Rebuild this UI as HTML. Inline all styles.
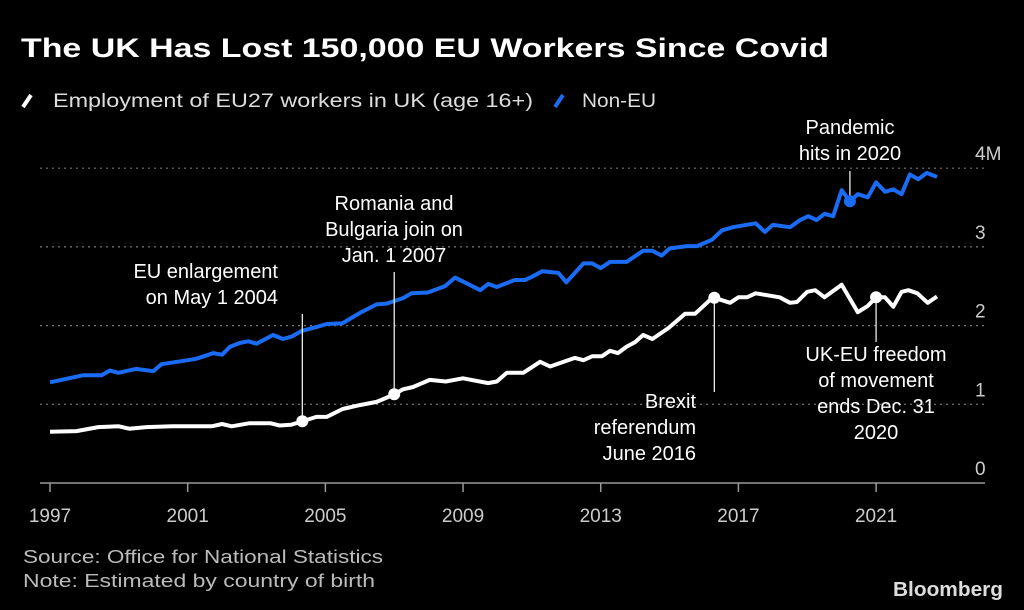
<!DOCTYPE html>
<html><head><meta charset="utf-8"><style>
html,body{margin:0;padding:0;background:#000;}
svg{display:block;font-family:"Liberation Sans",sans-serif;}
</style></head><body>
<svg id="chart" width="1024" height="610" viewBox="0 0 1024 610">
<rect width="1024" height="610" fill="#000"/>
<text x="21" y="57" fill="#fff" font-size="27" font-weight="bold" textLength="808" lengthAdjust="spacingAndGlyphs">The UK Has Lost 150,000 EU Workers Since Covid</text>
<g>
<line x1="23" y1="107" x2="31" y2="95" stroke="#fff" stroke-width="4"/>
<text x="53" y="107" fill="#ddd" font-size="19" textLength="480" lengthAdjust="spacingAndGlyphs">Employment of EU27 workers in UK (age 16+)</text>
<line x1="555" y1="107" x2="563" y2="95" stroke="#1a6cf5" stroke-width="4"/>
<text x="582" y="107" fill="#ddd" font-size="19" textLength="74" lengthAdjust="spacingAndGlyphs">Non-EU</text>
</g>
<g id="grid"></g>
<g id="axes"></g>
<g id="series"></g>
<g id="annot"></g>
<text x="23" y="563" fill="#bbb" font-size="18" textLength="360" lengthAdjust="spacingAndGlyphs">Source: Office for National Statistics</text>
<text x="23" y="587" fill="#bbb" font-size="18" textLength="352" lengthAdjust="spacingAndGlyphs">Note: Estimated by country of birth</text>
<text x="893" y="596" fill="#ddd" font-size="20" font-weight="bold" textLength="110" lengthAdjust="spacingAndGlyphs">Bloomberg</text>
</svg>
<script>
const yTickValues=[0,1,2,3,4];
const yTickLabels=["0","1","2","3","4M"];
const xTickYears=[1997,2001,2005,2009,2013,2017,2021];
const xTickLabels=["1997","2001","2005","2009","2013","2017","2021"];
const euYears=[1997,1997.77,1998.4,1999,1999.3,1999.8,2000.55,2001.7,2002,2002.28,2002.8,2003.4,2003.67,2004,2004.3,2004.74,2005.04,2005.5,2006,2006.49,2006.97,2007.26,2007.55,2008.03,2008.5,2009,2009.73,2009.98,2010.27,2010.75,2011.24,2011.53,2012.25,2012.5,2012.75,2013.03,2013.27,2013.5,2013.75,2014,2014.23,2014.5,2014.97,2015.45,2015.74,2016.26,2016.76,2017,2017.25,2017.5,2018.2,2018.5,2018.7,2019,2019.23,2019.5,2020,2020.47,2020.76,2021,2021.26,2021.5,2021.74,2021.94,2022.2,2022.5,2022.77];
const euValues=[0.65,0.66,0.71,0.72,0.69,0.71,0.72,0.72,0.75,0.72,0.76,0.76,0.73,0.74,0.78,0.84,0.84,0.94,0.99,1.03,1.12,1.19,1.22,1.31,1.29,1.33,1.27,1.29,1.40,1.40,1.54,1.48,1.59,1.56,1.61,1.61,1.68,1.65,1.73,1.79,1.88,1.83,1.97,2.15,2.15,2.36,2.29,2.36,2.36,2.41,2.36,2.29,2.30,2.43,2.45,2.36,2.52,2.17,2.25,2.36,2.36,2.24,2.43,2.45,2.41,2.29,2.37];
const nonEuYears=[1997,1997.97,1998.5,1998.74,1998.98,1999.5,2000,2000.24,2001,2001.26,2001.74,2002,2002.23,2002.52,2002.76,2003,2003.48,2003.77,2004.02,2004.3,2004.8,2005.04,2005.5,2006,2006.49,2006.78,2007.26,2007.5,2007.98,2008.47,2008.77,2009.5,2009.73,2009.98,2010.5,2010.8,2011,2011.3,2011.77,2012,2012.5,2012.75,2013,2013.27,2013.75,2014.23,2014.5,2014.77,2015,2015.5,2015.8,2016.23,2016.52,2016.84,2017.5,2017.77,2018,2018.5,2018.79,2019.03,2019.27,2019.5,2019.75,2020,2020.24,2020.47,2020.76,2021,2021.26,2021.5,2021.74,2021.98,2022.23,2022.47,2022.77];
const nonEuValues=[1.28,1.37,1.37,1.43,1.40,1.45,1.42,1.51,1.56,1.58,1.65,1.63,1.73,1.78,1.80,1.77,1.88,1.83,1.86,1.93,1.99,2.02,2.03,2.16,2.27,2.28,2.35,2.41,2.42,2.50,2.61,2.45,2.53,2.49,2.58,2.58,2.62,2.69,2.67,2.55,2.79,2.79,2.73,2.81,2.81,2.95,2.95,2.89,2.98,3.01,3.01,3.09,3.21,3.25,3.30,3.19,3.28,3.25,3.34,3.39,3.34,3.42,3.39,3.72,3.58,3.67,3.63,3.82,3.70,3.73,3.67,3.92,3.86,3.94,3.89];
const eventYears=[2004.33,2007.0,2016.3,2021.0];
const pandemicYear=2020.24;

const NS="http://www.w3.org/2000/svg";
const X=y=>50+(y-1997)*34.42;
const Y=v=>483-v*78.7;
function mk(tag,attrs,parent,txt){const e=document.createElementNS(NS,tag);for(const k in attrs)e.setAttribute(k,attrs[k]);if(txt!==undefined)e.textContent=txt;parent.appendChild(e);return e;}
const grid=document.getElementById('grid'),axes=document.getElementById('axes'),series=document.getElementById('series'),annot=document.getElementById('annot');
yTickValues.forEach((v,i)=>{
  if(v>0){const g=mk('line',{x1:40,x2:985,y1:Y(v),y2:Y(v),stroke:'#777','stroke-width':1.2,'stroke-dasharray':'2 4'},grid);
  
  }
  const t=mk('text',{x:975,y:Y(v)-8,fill:'#ccc','font-size':19,'text-anchor':'start'},axes,yTickLabels[i]);
  
  
});
const ax=mk('line',{x1:40,x2:985,y1:483,y2:483,stroke:'#999','stroke-width':1.5},axes);


xTickYears.forEach((yr,i)=>{
  const tk=mk('line',{x1:X(yr),x2:X(yr),y1:483,y2:492,stroke:'#999','stroke-width':1.5},axes);
  
  
  const t=mk('text',{x:X(yr),y:522,fill:'#ccc','font-size':19,'text-anchor':'middle'},axes,xTickLabels[i]);
  
  
});
function interp(xs,vs,x){for(let i=0;i<xs.length-1;i++){if(x>=xs[i]&&x<=xs[i+1]){return vs[i]+(vs[i+1]-vs[i])*(x-xs[i])/(xs[i+1]-xs[i]);}}return vs[vs.length-1];}
const pts=(xs,vs)=>xs.map((x,i)=>X(x).toFixed(1)+','+Y(vs[i]).toFixed(1)).join(' ');
const nl=mk('polyline',{points:pts(nonEuYears,nonEuValues),fill:'none',stroke:'#1a6cf5','stroke-width':4,'stroke-linejoin':'round'},series);


const el=mk('polyline',{points:pts(euYears,euValues),fill:'none',stroke:'#fff','stroke-width':4,'stroke-linejoin':'round'},series);


const leader=[[314,'above'],[272,'above'],[392,'below'],[342,'below']];
eventYears.forEach((yr,i)=>{
  const cy=Y(interp(euYears,euValues,yr));
  const l=mk('line',{x1:X(yr),x2:X(yr),y1:leader[i][0],y2:cy,stroke:'#fff','stroke-width':1.2},annot);
  
  
  const c=mk('circle',{cx:X(yr),cy:cy,r:6,fill:'#fff'},annot);
  
  
});
const pcy=Y(interp(nonEuYears,nonEuValues,pandemicYear));
const pl=mk('line',{x1:X(pandemicYear),x2:X(pandemicYear),y1:171,y2:pcy,stroke:'#fff','stroke-width':1.2},annot);


const pc=mk('circle',{cx:X(pandemicYear),cy:pcy,r:6,fill:'#1a6cf5'},annot);


const labels=[
 ['label-eu-enlargement',['EU enlargement','on May 1 2004'],278,'end',[278,304]],
 ['label-romania-bulgaria',['Romania and','Bulgaria join on','Jan. 1 2007'],394,'middle',[210,236,262]],
 ['label-brexit',['Brexit','referendum','June 2016'],696,'end',[408,434,460]],
 ['label-freedom-of-movement',['UK-EU freedom','of movement','ends Dec. 31','2020'],876,'middle',[361,387,413,439]],
 ['label-pandemic',['Pandemic','hits in 2020'],850,'middle',[134,160]]
];
labels.forEach(L=>{
  L[1].forEach((s,j)=>{
    const t=mk('text',{x:L[2],y:L[4][j],fill:'#fff','font-size':20,'text-anchor':L[3]},annot,s);
    
    
  });
});
</script>
</body></html>
